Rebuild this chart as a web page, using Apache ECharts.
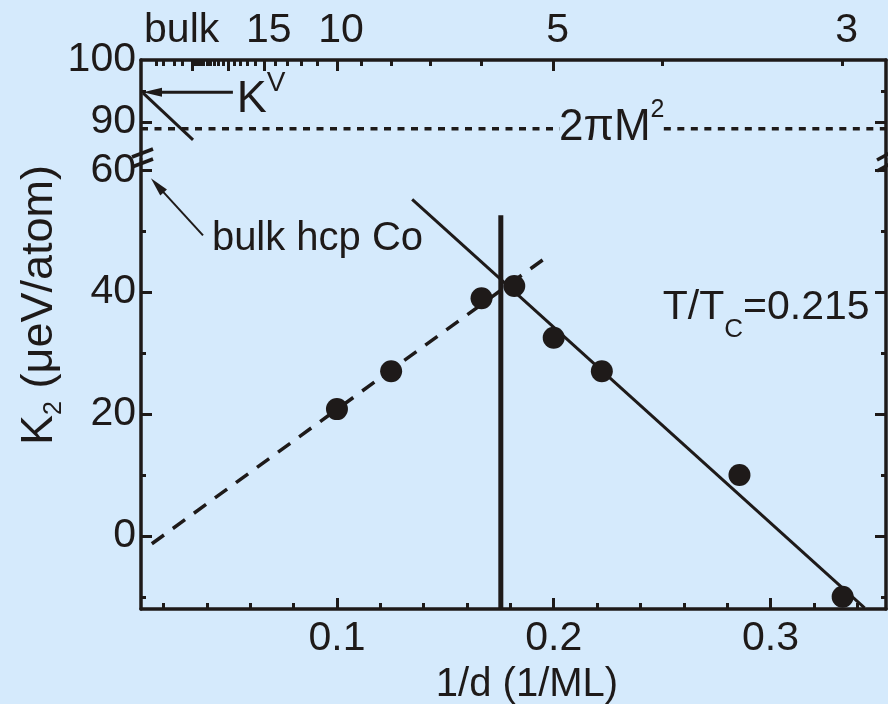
<!DOCTYPE html>
<html><head><meta charset="utf-8">
<script src="https://cdn.jsdelivr.net/npm/echarts@6/dist/echarts.min.js"></script>
<style>html,body{margin:0;padding:0;background:#d5eafc}#c{width:888px;height:704px}</style>
</head><body><div id="c"></div>
<script>
// ---------- data ----------
const xMin = 0.0096, xMax = 0.3533;
const upperMin = 84.5, upperMax = 100;
const lowerMin = -12, lowerMax = 62;

const dotX = [0.1, 0.125, 0.1667, 0.1818, 0.2, 0.2222, 0.2857, 0.3333];
const dotY = [20.8, 27.0, 39.0, 41.0, 32.5, 27.0, 10.0, -10.0];

const dashFitX = [0.0146, 0.1954];
const dashFitY = [-1.3, 45.4];
const solidFitX = [0.1347, 0.3434];
const solidFitY = [55.2, -11.8];
const crossX = [0.1756, 0.1756];
const crossY = [-12, 52.6];

const bulkLineX = [0.0105, 0.0336];
const bulkLineY = [94.7, 87.1];
const kvArrowX = [0.0520, 0.0149];
const kvArrowY = [94.8, 94.8];
const hcpArrowX = [0.0382, 0.0171];
const hcpArrowY = [49.3, 57.5];
const shapeY = 88.9;
const shapeSegA = [xMin, 0.2028];
const shapeSegB = [0.2508, xMax];

const bottomMajor = [0.1, 0.2, 0.3];
const bottomMinor = [0.02, 0.04, 0.06, 0.08, 0.12, 0.14, 0.16, 0.18, 0.22, 0.24, 0.26, 0.28, 0.32, 0.34];
const lowerMajor = [0, 20, 40, 60];
const lowerMinor = [-10, 10, 30, 50];
const upperLabels = [90, 100];
const upperMajor = [90];
const upperMinor = [95];

const topTickN = [3,4,5,6,7,8,9,10,11,12,13,14,15,16,17,18,19,20,21,22,23,24,25,26,27,28,29,30,35,40,50,60];
const topLongN = [5, 10, 15, 20, 30];
const topLabelText = ['bulk', '15', '10', '5', '3'];
const topLabelPos = [0.0265, 1/15, 1/10, 1/5, 1/3];

// annotation anchors (data coords)
const kvText = [0.0538, 94.2];
const piText = [0.2268, 89.76];
const hcpText = [0.0423, 48.7];
const tcText = [0.2503, 36.2];

// ---------- style ----------
const INK = '#1e1a19';
const FONT = '"Liberation Sans", Arial, sans-serif';
const topShortVals = topTickN.filter(n => !topLongN.includes(n)).map(n => 1 / n);
const topLongVals = topLongN.map(n => 1 / n);
const pairs = (xs, ys) => xs.map((x, i) => [x, ys[i]]);
const lineW = 3.5;

function xAx(grid, pos, ticks, len, opts) {
  return Object.assign({
    gridIndex: grid, type: 'value', position: pos, min: xMin, max: xMax,
    axisLine: { show: false, onZero: false, lineStyle: { color: INK, width: lineW } },
    axisTick: { show: true, inside: true, length: len, customValues: ticks, lineStyle: { color: INK, width: 3 } },
    axisLabel: { show: false },
    splitLine: { show: false }
  }, opts || {});
}
function yAx(grid, pos, min, max, ticks, len, opts) {
  return Object.assign({
    gridIndex: grid, type: 'value', position: pos, min: min, max: max,
    axisLine: { show: false, onZero: false, lineStyle: { color: INK, width: lineW } },
    axisTick: { show: true, inside: true, length: len, customValues: ticks, lineStyle: { color: INK, width: 3 } },
    axisLabel: { show: false },
    splitLine: { show: false }
  }, opts || {});
}
const lblStyle = { color: INK, fontSize: 41, fontFamily: FONT };
const showLine = { show: true, onZero: false, lineStyle: { color: INK, width: lineW } };

const headPath = 'path://M5,0L10,20L0,20Z';

const option = {
  backgroundColor: '#d5eafc',
  animation: false,
  grid: [
    { left: 141, right: 2, top: 60, height: 96, outerBoundsMode: 'none', containLabel: false },
    { left: 141, right: 2, top: 158, bottom: 95, outerBoundsMode: 'none', containLabel: false }
  ],
  xAxis: [
    xAx(0, 'top', topShortVals, 6, {
      axisLine: showLine,
      axisLabel: Object.assign({
        show: true, customValues: topLabelPos, margin: 9, padding: [0, 0, 0, 8],
        formatter: v => { const i = topLabelPos.findIndex(p => Math.abs(p - v) < 1e-6); return i >= 0 ? topLabelText[i] : ''; }
      }, lblStyle)
    }),
    xAx(0, 'top', topLongVals, 11),
    xAx(1, 'bottom', bottomMajor, 11, {
      axisLine: showLine,
      axisLabel: Object.assign({ show: true, customValues: bottomMajor, margin: 9, formatter: v => v.toFixed(1) }, lblStyle),
      name: '1/d (1/ML)', nameLocation: 'middle', nameGap: 56,
      nameTextStyle: { color: INK, fontSize: 40, fontFamily: FONT, lineHeight: 40, padding: [0, 0, 0, 27] }
    }),
    xAx(1, 'bottom', bottomMinor, 6)
  ],
  yAxis: [
    yAx(0, 'left', upperMin, upperMax, upperMajor, 11, {
      axisLine: showLine,
      axisLabel: Object.assign({ show: true, customValues: upperLabels, margin: 5 }, lblStyle)
    }),
    yAx(0, 'left', upperMin, upperMax, upperMinor, 5),
    yAx(0, 'right', upperMin, upperMax, upperMajor, 11, { axisLine: showLine }),
    yAx(0, 'right', upperMin, upperMax, upperMinor, 5),
    yAx(1, 'left', lowerMin, lowerMax, lowerMajor, 11, {
      axisLine: showLine,
      axisLabel: Object.assign({ show: true, customValues: lowerMajor, margin: 5 }, lblStyle)
    }),
    yAx(1, 'left', lowerMin, lowerMax, lowerMinor, 5),
    yAx(1, 'right', lowerMin, lowerMax, lowerMajor, 11, { axisLine: showLine }),
    yAx(1, 'right', lowerMin, lowerMax, lowerMinor, 5)
  ],
  series: [
    {
      type: 'line', name: 'dashFit', xAxisIndex: 2, yAxisIndex: 4, data: pairs(dashFitX, dashFitY),
      symbol: 'none', lineStyle: { color: INK, width: 3.5, type: [15, 11] }, z: 3
    },
    {
      type: 'line', name: 'solidFit', xAxisIndex: 2, yAxisIndex: 4, data: pairs(solidFitX, solidFitY),
      symbol: 'none', lineStyle: { color: INK, width: 3 }, z: 3
    },
    {
      type: 'line', name: 'cross', xAxisIndex: 2, yAxisIndex: 4, data: pairs(crossX, crossY),
      symbol: 'none', lineStyle: { color: INK, width: 5 }, z: 3
    },
    {
      type: 'line', name: 'hcpArrow', xAxisIndex: 2, yAxisIndex: 4,
      data: [{ value: [hcpArrowX[0], hcpArrowY[0]], symbol: 'none' },
             { value: [hcpArrowX[1], hcpArrowY[1]], symbol: headPath, symbolSize: [9, 19], symbolRotate: 42 }],
      symbol: 'none', showSymbol: true, itemStyle: { color: INK }, lineStyle: { color: INK, width: 2 }, z: 3
    },
    {
      type: 'scatter', name: 'K2', xAxisIndex: 2, yAxisIndex: 4, data: pairs(dotX, dotY),
      symbol: 'circle', symbolSize: 22, itemStyle: { color: INK, opacity: 1 }, z: 5,
      markPoint: {
        silent: true, symbol: 'circle', symbolSize: 0, itemStyle: { color: 'rgba(0,0,0,0)' },
        data: [
          { coord: hcpText, label: { show: true, position: 'right', distance: 0, formatter: 'bulk hcp Co',
            color: INK, fontSize: 40, fontFamily: FONT, lineHeight: 40 } },
          { coord: tcText, label: { show: true, position: 'right', distance: 0, formatter: '{a|T/T}{s|C}{a|=0.215}',
            rich: {
              a: { color: INK, fontSize: 41, fontFamily: FONT, lineHeight: 41, verticalAlign: 'top' },
              s: { color: INK, fontSize: 26, fontFamily: FONT, lineHeight: 56, verticalAlign: 'bottom' }
            } } }
        ]
      }
    },
    {
      type: 'line', name: 'bulkLine', xAxisIndex: 0, yAxisIndex: 0, data: pairs(bulkLineX, bulkLineY),
      symbol: 'none', lineStyle: { color: INK, width: 3 }, z: 3,
      markPoint: {
        silent: true, symbol: 'circle', symbolSize: 0, itemStyle: { color: 'rgba(0,0,0,0)' },
        data: [
          { coord: kvText, label: { show: true, position: 'right', distance: 0, formatter: '{k|K}{v|V}',
            rich: {
              k: { color: INK, fontSize: 45, fontFamily: FONT, lineHeight: 53, verticalAlign: 'bottom' },
              v: { color: INK, fontSize: 28, fontFamily: FONT, lineHeight: 28, verticalAlign: 'top' }
            } } },
          { coord: piText, label: { show: true, position: 'inside', formatter: '{a|2πM}{s|2}',
            rich: {
              a: { color: INK, fontSize: 44, fontFamily: FONT, lineHeight: 52, verticalAlign: 'bottom' },
              s: { color: INK, fontSize: 25, fontFamily: FONT, lineHeight: 25, verticalAlign: 'top' }
            } } }
        ]
      }
    },
    {
      type: 'line', name: 'kvArrow', xAxisIndex: 0, yAxisIndex: 0,
      data: [{ value: [kvArrowX[0], kvArrowY[0]], symbol: 'none' },
             { value: [kvArrowX[1], kvArrowY[1]], symbol: headPath, symbolSize: [9, 19], symbolRotate: 90 }],
      symbol: 'none', showSymbol: true, itemStyle: { color: INK }, lineStyle: { color: INK, width: 3 }, z: 3
    },
    {
      type: 'line', name: 'shapeA', xAxisIndex: 0, yAxisIndex: 0, data: shapeSegA.map(x => [x, shapeY]),
      symbol: 'none', lineStyle: { color: INK, width: 3.5, type: [7, 6.5] }, z: 3
    },
    {
      type: 'line', name: 'shapeB', xAxisIndex: 0, yAxisIndex: 0, data: shapeSegB.map(x => [x, shapeY]),
      symbol: 'none', lineStyle: { color: INK, width: 3.5, type: [7, 6.5] }, z: 3
    }
  ],
  graphic: [
    { type: 'text', x: 42, y: 305, rotation: Math.PI / 2, z: 10,
      style: { text: '{a|K}{s|2}{a| (μeV/atom)}', align: 'center', verticalAlign: 'middle',
        rich: {
          a: { fill: INK, fontSize: 45, fontFamily: FONT, lineHeight: 50, verticalAlign: 'top' },
          s: { fill: INK, fontSize: 25, fontFamily: FONT, lineHeight: 25, verticalAlign: 'bottom' }
        } } },
    { type: 'line', shape: { x1: 132, y1: 157, x2: 153, y2: 149 }, style: { stroke: INK, lineWidth: 3.5 }, z: 10 },
    { type: 'line', shape: { x1: 132, y1: 167, x2: 153, y2: 159 }, style: { stroke: INK, lineWidth: 3.5 }, z: 10 },
    { type: 'line', shape: { x1: 877, y1: 160, x2: 890, y2: 153 }, style: { stroke: INK, lineWidth: 3.5 }, z: 10 },
    { type: 'line', shape: { x1: 877, y1: 171, x2: 890, y2: 164 }, style: { stroke: INK, lineWidth: 3.5 }, z: 10 }
  ]
};

const chart = echarts.init(document.getElementById('c'), null, { renderer: 'canvas' });
chart.setOption(option);
</script></body></html>
